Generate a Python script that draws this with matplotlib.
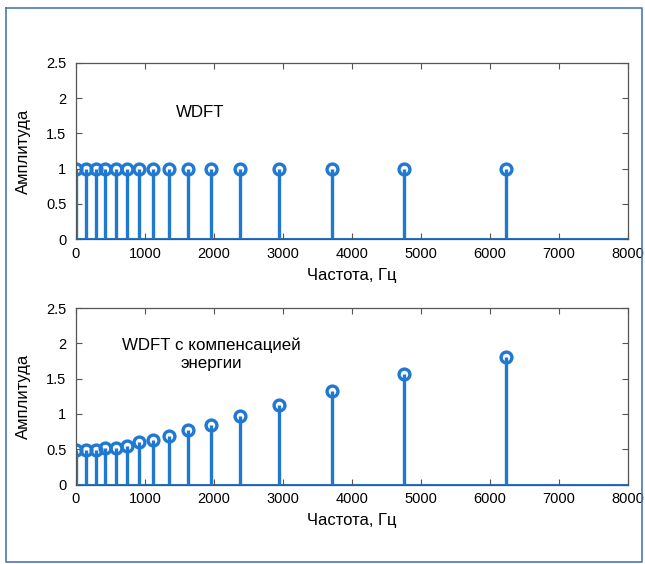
import matplotlib
matplotlib.use('Agg')
import matplotlib.pyplot as plt
from matplotlib.lines import Line2D

plt.rcParams['font.family'] = ['Liberation Sans', 'DejaVu Sans']

# центральные частоты полос WDFT, Гц
freqs = [0, 140, 285, 425, 580, 745, 920, 1115, 1345, 1620, 1955, 2380,
         2940, 3710, 4760, 6225]
# амплитуды без компенсации
amp_wdft = [1.0] * len(freqs)
# амплитуды с компенсацией энергии
amp_comp = [0.49, 0.49, 0.49, 0.51, 0.52, 0.55, 0.60, 0.635, 0.69, 0.765,
            0.845, 0.965, 1.125, 1.32, 1.56, 1.81]

xticks = [0, 1000, 2000, 3000, 4000, 5000, 6000, 7000, 8000]
yticks = [0, 0.5, 1, 1.5, 2, 2.5]

BLUE = '#1f78d1'

fig = plt.figure(figsize=(6.45, 5.64), dpi=100)

# рамка вокруг рисунка
W, H = 645.0, 564.0
frame = [(6, 8), (642, 8), (642, 562), (6, 562), (6, 8)]
fig.add_artist(Line2D([p[0] / W for p in frame], [1 - p[1] / H for p in frame],
                      transform=fig.transFigure, color='#4a78b8', lw=1.2))

ax1 = fig.add_axes([76 / W, 1 - 239.3 / H, 552 / W, 176.6 / H])
ax2 = fig.add_axes([76 / W, 1 - 484.5 / H, 552 / W, 176.5 / H])


def draw_stem(ax, y):
    m, s, b = ax.stem(freqs, y, basefmt=' ')
    plt.setp(s, color=BLUE, linewidth=2.4)
    plt.setp(m, color=BLUE, markersize=7.8, markeredgewidth=2.4,
             markerfacecolor='none')
    ax.axhline(0, color=BLUE, lw=1.5, zorder=1)
    ax.set_xlim(0, 8000)
    ax.set_ylim(0, 2.5)
    ax.set_xticks(xticks)
    ax.set_yticks(yticks)
    ax.set_yticklabels(['0', '0.5', '1', '1.5', '2', '2.5'])
    ax.tick_params(direction='in', length=4, width=0.8, colors='#555555',
                   labelcolor='black', labelsize=10.5, top=True, right=True)
    ax.tick_params(axis='x', pad=5.5)
    ax.tick_params(axis='y', pad=7)
    for sp in ax.spines.values():
        sp.set_color('#555555')
        sp.set_linewidth(0.9)
    ax.set_xlabel('Частота, Гц', fontsize=12, labelpad=5)
    ax.set_ylabel('Амплитуда', fontsize=12, labelpad=11)


draw_stem(ax1, amp_wdft)
draw_stem(ax2, amp_comp)

ax1.text(176 / W, 1 - 112 / H, 'WDFT', transform=fig.transFigure,
         fontsize=12.2, ha='left', va='center')
ax2.text(211 / W, 1 - 354 / H, 'WDFT с компенсацией\nэнергии',
         transform=fig.transFigure, fontsize=12.2, ha='center', va='center',
         linespacing=1.25)

fig.savefig('out.png', dpi=100)
